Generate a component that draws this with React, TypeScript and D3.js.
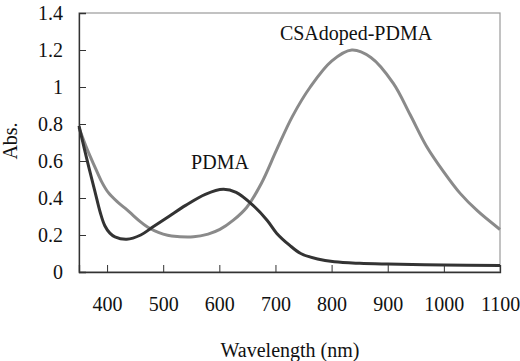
import React, { useEffect, useRef } from 'react'
import * as d3 from 'd3'

// absorbance spectra, wavelength in nm
const pdmaWl = [350, 360, 368, 378, 388, 396, 405, 414, 435, 460, 480, 510, 540, 575, 607, 630, 660, 685, 702, 725, 745, 775, 805, 850, 900, 1000, 1100]
const pdmaAbs = [0.79, 0.66, 0.56, 0.44, 0.32, 0.25, 0.21, 0.19, 0.177, 0.2, 0.24, 0.3, 0.36, 0.42, 0.447, 0.43, 0.36, 0.28, 0.21, 0.145, 0.1, 0.07, 0.055, 0.047, 0.043, 0.038, 0.035]

const dopedWl = [350, 365, 378, 390, 402, 418, 432, 445, 458, 472, 485, 500, 515, 554, 580, 601, 625, 649, 675, 702, 730, 762, 800, 836, 870, 910, 940, 969, 1000, 1029, 1060, 1100]
const dopedAbs = [0.78, 0.66, 0.57, 0.49, 0.43, 0.38, 0.345, 0.31, 0.275, 0.243, 0.222, 0.205, 0.195, 0.19, 0.205, 0.23, 0.28, 0.35, 0.48, 0.66, 0.84, 1.0, 1.14, 1.2, 1.16, 1.02, 0.85, 0.68, 0.54, 0.425, 0.33, 0.23]

const xTicks = [400, 500, 600, 700, 800, 900, 1000, 1100]
const yTicks = [0, 0.2, 0.4, 0.6, 0.8, 1, 1.2, 1.4]

const W = 520
const H = 361
const font = '"Liberation Serif", "Times New Roman", serif'

export default function App() {
  const ref = useRef<SVGSVGElement>(null)

  useEffect(() => {
    const svg = d3.select(ref.current)
    svg.selectAll('*').remove()

    const left = 79, right = 500, top = 13, bottom = 272
    const x = d3.scaleLinear().domain([350, 1100]).range([left, right])
    const y = d3.scaleLinear().domain([0, 1.4]).range([bottom, top])

    // plot frame
    svg.append('rect')
      .attr('x', left).attr('y', top)
      .attr('width', right - left).attr('height', bottom - top)
      .attr('fill', 'none').attr('stroke', '#9a9a9a').attr('stroke-width', 1.2)

    // curves
    const line = d3.line<[number, number]>()
      .x(d => x(d[0])).y(d => y(d[1]))
      .curve(d3.curveCatmullRom.alpha(0.5))

    const draw = (wl: number[], ab: number[], color: string) => {
      svg.append('path')
        .datum(wl.map((w, i) => [w, ab[i]] as [number, number]))
        .attr('d', line)
        .attr('fill', 'none')
        .attr('stroke', color)
        .attr('stroke-width', 3)
        .attr('stroke-linejoin', 'round')
    }
    draw(dopedWl, dopedAbs, '#8a8a8a')
    draw(pdmaWl, pdmaAbs, '#333333')

    // axes with inward ticks
    const xAxis = svg.append('g').attr('transform', `translate(0,${bottom})`)
      .call(d3.axisBottom(x).tickValues(xTicks).tickSize(-7).tickPadding(25).tickFormat(d3.format('d')))
    const yAxis = svg.append('g').attr('transform', `translate(${left},0)`)
      .call(d3.axisLeft(y).tickValues(yTicks).tickSize(-7).tickPadding(16).tickFormat(d3.format('')))

    for (const g of [xAxis, yAxis]) {
      g.attr('font-family', null).attr('font-size', null)
      g.select('.domain').attr('stroke', '#333').attr('stroke-width', 1.3)
      g.selectAll('.tick line').attr('stroke', '#333').attr('stroke-width', 1)
      g.selectAll('.tick text').attr('fill', '#111')
        .style('font-family', font).style('font-size', '20px')
    }

    const label = (txt: string, xPos: number, yPos: number, rotate = 0) =>
      svg.append('text')
        .attr('transform', `translate(${xPos},${yPos}) rotate(${rotate})`)
        .attr('text-anchor', 'middle')
        .style('font-family', font)
        .style('font-size', '20px')
        .attr('fill', '#111')
        .text(txt)

    // axis titles
    label('Wavelength (nm)', 290, 357)
    label('Abs.', 17, 141, -90)

    // series labels
    label('CSAdoped-PDMA', 356, 40)
    label('PDMA', 220, 169)
  }, [])

  return (
    <svg ref={ref} width={W} height={H}
      style={{ position: 'absolute', left: 0, top: 0, background: '#fff' }} />
  )
}
